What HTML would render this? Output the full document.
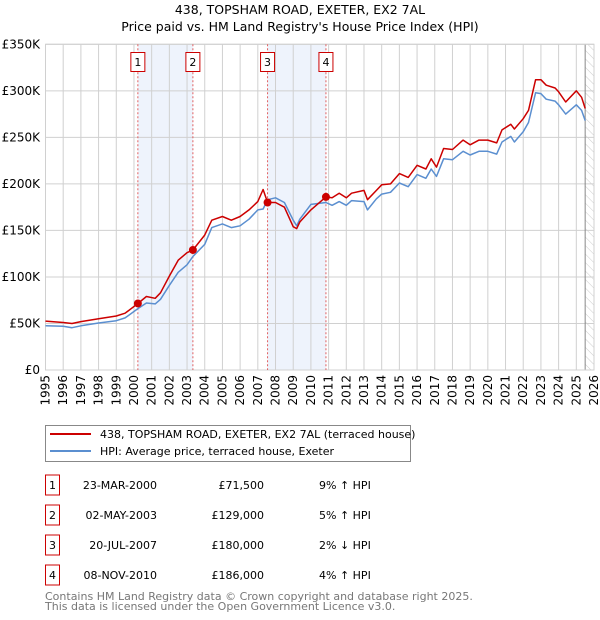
<!DOCTYPE html>
<html><head><meta charset="utf-8">
<style>
body{margin:0;background:#fff;}
svg{display:block;font-family:"DejaVu Sans","Liberation Sans",sans-serif;}
</style></head>
<body>
<svg id="chart" width="600" height="620" viewBox="0 0 600 620" xmlns="http://www.w3.org/2000/svg">
<defs>
<pattern id="hatch" patternUnits="userSpaceOnUse" width="6" height="6" patternTransform="rotate(-45)">
<line x1="0" y1="0" x2="0" y2="6" stroke="#ccc" stroke-width="1"/>
</pattern>
</defs>
<text x="300" y="14" text-anchor="middle" font-size="12.5">438, TOPSHAM ROAD, EXETER, EX2 7AL</text>
<text x="300" y="31" text-anchor="middle" font-size="12.5">Price paid vs. HM Land Registry's House Price Index (HPI)</text>
<g id="plot"></g>
<g>
<rect x="45.5" y="425.5" width="365" height="36" fill="#fff" stroke="#888"/>
<line x1="50" y1="434" x2="91" y2="434" stroke="#cc0000" stroke-width="2"/>
<text x="100" y="438" font-size="11">438, TOPSHAM ROAD, EXETER, EX2 7AL (terraced house)</text>
<line x1="50" y1="451" x2="91" y2="451" stroke="#5b8fd0" stroke-width="2"/>
<text x="100" y="455" font-size="11">HPI: Average price, terraced house, Exeter</text>
</g>
<g id="table" font-size="11"></g>
<text x="45" y="600" font-size="11" fill="#777">Contains HM Land Registry data © Crown copyright and database right 2025.</text>
<text x="45" y="610" font-size="11" fill="#777">This data is licensed under the Open Government Licence v3.0.</text>
</svg>
<script>
const yTicks=[0,50,100,150,200,250,300,350];
const yearTicks=[1995,1996,1997,1998,1999,2000,2001,2002,2003,2004,2005,2006,2007,2008,2009,2010,2011,2012,2013,2014,2015,2016,2017,2018,2019,2020,2021,2022,2023,2024,2025,2026];
const tYears=[1995,1996,1996.5,1997,1998,1999,1999.5,2000.22,2000.7,2001.2,2001.5,2002,2002.5,2003,2003.33,2004,2004.4,2005,2005.5,2006,2006.5,2007,2007.3,2007.55,2008,2008.5,2009,2009.2,2009.37,2010,2010.85,2011.2,2011.6,2012,2012.3,2013,2013.2,2013.7,2014,2014.5,2015,2015.5,2016,2016.5,2016.8,2017.1,2017.5,2018,2018.6,2019,2019.5,2020,2020.5,2020.8,2021.3,2021.5,2022,2022.3,2022.7,2023,2023.3,2023.8,2024,2024.4,2025,2025.3,2025.5];
const priceVals=[52.6,51,50,52,55,58,61,71.5,79,77,83,101,118,126,129,145,161,165,161,165,172,181,194,180,180,175,154,152,159,172,186,185,190,185,190,193,183,193,199,200,211,207,220,216,227,218,238,237,247,242,247,247,244,258,264,259,270,279,312,312,306,303,299,288,300,293,281];
const hpiVals=[47.5,47,45.5,47.5,50.5,53,56,66,72,71,76,91,105,113,122,135,153,157,153,155,162,172,173,183,185,180,161,155,162,178,180,177,181,177,182,181,172,184,189,191,201,197,210,206,216,208,227,226,235,231,235,235,232,245,251,245,256,266,298,297,291,289,285,275,285,279,268];
const saleLabels=["1","2","3","4"];
const saleYears=[2000.22,2003.33,2007.55,2010.85];
const salePrices=[71.5,129,180,186];
const saleDates=["23-MAR-2000","02-MAY-2003","20-JUL-2007","08-NOV-2010"];
const salePriceText=["£71,500","£129,000","£180,000","£186,000"];
const saleHpiText=["9% ↑ HPI","5% ↑ HPI","2% ↓ HPI","4% ↑ HPI"];

const X0=45.5,X1=594,Y0=370,Y1=44.3;
const xs=y=>X0+(y-1995)/(2026-1995)*(X1-X0);
const ys=v=>Y0-(v/350)*(Y0-Y1);
const NS="http://www.w3.org/2000/svg";
const plot=document.getElementById('plot');
function mk(tag,attrs,parent){const e=document.createElementNS(NS,tag);for(const k in attrs)e.setAttribute(k,attrs[k]);(parent||plot).appendChild(e);return e;}

// shaded ranges
for(let i=0;i<2;i++){
 const r=mk('rect',{x:xs(saleYears[2*i]),y:Y1,width:xs(saleYears[2*i+1])-xs(saleYears[2*i]),height:Y0-Y1,fill:'#eef3fc'});
 
 
}
// hatch future
const h=mk('rect',{x:xs(2025.5),y:Y1,width:X1-xs(2025.5),height:Y0-Y1,fill:'url(#hatch)'});


// gridlines
yTicks.forEach(v=>{
 const l=mk('line',{x1:X0,x2:X1,y1:ys(v),y2:ys(v),stroke:'#d0d0d0'});
 
 
 const t=mk('text',{x:40,y:ys(v)+4,'text-anchor':'end','font-size':'12'});
 t.textContent=v===0?'£0':'£'+v+'K';
 
 
});
yearTicks.forEach(yr=>{
 const l=mk('line',{x1:xs(yr),x2:xs(yr),y1:Y1,y2:Y0,stroke:'#d0d0d0'});
 
 
 const t=mk('text',{x:0,y:0,'font-size':'12','text-anchor':'end',transform:`translate(${xs(yr)+4},${Y0+5}) rotate(-90)`});
 t.textContent=yr;
 
 
});
mk('line',{x1:xs(2025.5),x2:xs(2025.5),y1:Y1,y2:Y0,stroke:'#888'});
mk('rect',{x:X0,y:Y1,width:X1-X0,height:Y0-Y1,fill:'none',stroke:'#d0d0d0'});
// sale vlines
saleYears.forEach((yr,i)=>{
 const l=mk('line',{x1:xs(yr),x2:xs(yr),y1:Y1,y2:Y0,stroke:'#e06060','stroke-dasharray':'2,2'});
 
 
 const b=mk('rect',{x:xs(yr)-7,y:52.5,width:14,height:19,fill:'#fff',stroke:'#cc0000'});
 
 
 const t=mk('text',{x:xs(yr),y:66,'text-anchor':'middle','font-size':'11'});
 t.textContent=saleLabels[i];
});
function path(vals,color,name){
 const d=tYears.map((y,i)=>(i?'L':'M')+xs(y).toFixed(1)+','+ys(vals[i]).toFixed(1)).join(' ');
 const p=mk('path',{d:d,fill:'none',stroke:color,'stroke-width':'1.5','stroke-linejoin':'round'});
 
 
}
path(hpiVals,'#5b8fd0','hpi-line');
path(priceVals,'#cc0000','price-line');
saleYears.forEach((yr,i)=>{
 const c=mk('circle',{cx:xs(yr),cy:ys(salePrices[i]),r:4,fill:'#cc0000'});
 
 
});
// table
const tb=document.getElementById('table');
const rowY=[485,515,545,575];
saleLabels.forEach((lab,i)=>{
 const g=mk('g',{},tb);
 
 
 mk('rect',{x:45.5,y:rowY[i]-10,width:14,height:20,fill:'#fff',stroke:'#cc0000'},g);
 const a=mk('text',{x:52.5,y:rowY[i]+4,'text-anchor':'middle'},g);a.textContent=lab;
 const b=mk('text',{x:157,y:rowY[i]+4,'text-anchor':'end'},g);b.textContent=saleDates[i];
 const c=mk('text',{x:264,y:rowY[i]+4,'text-anchor':'end'},g);c.textContent=salePriceText[i];
 const d=mk('text',{x:319,y:rowY[i]+4},g);d.textContent=saleHpiText[i];
});
</script>
</body></html>
